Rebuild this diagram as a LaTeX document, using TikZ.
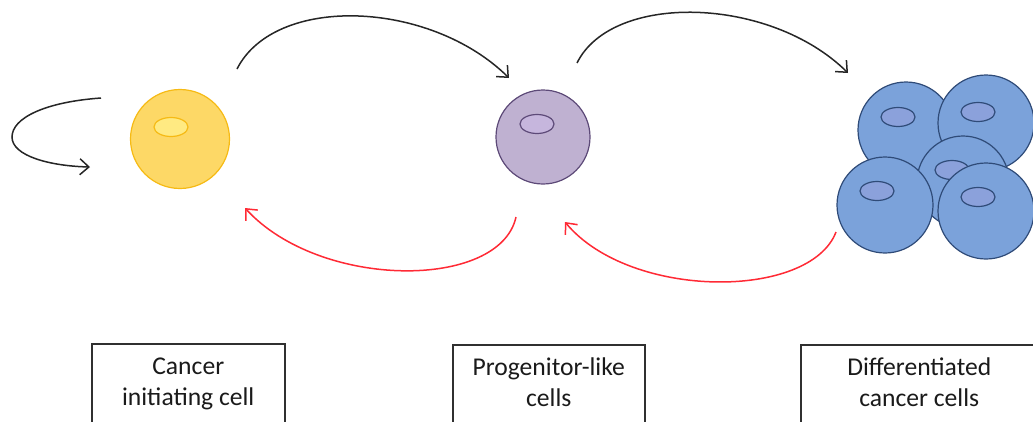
\documentclass[tikz,border=0pt]{standalone}
\usepackage{fontspec}
\setmainfont{Carlito}
\usetikzlibrary{arrows.meta,shapes.geometric}

\definecolor{icifill}{HTML}{FDD866}
\definecolor{icidraw}{HTML}{F6BA14}
\definecolor{icinuc}{HTML}{FFEA82}
\definecolor{profill}{HTML}{BFB1D1}
\definecolor{prodraw}{HTML}{5D4A78}
\definecolor{pronuc}{HTML}{C6B6DD}
\definecolor{difffill}{HTML}{7BA2DA}
\definecolor{diffdraw}{HTML}{2F4B78}
\definecolor{diffnuc}{HTML}{8BA1DB}
\definecolor{arrowgray}{HTML}{262626}
\definecolor{backred}{HTML}{FF2A35}
\definecolor{boxgray}{HTML}{303030}
\definecolor{labelink}{HTML}{1A1A1A}

\begin{document}
\begin{tikzpicture}[x=1pt,y=-1pt,
  cell/.style={circle, inner sep=0pt, line width=1.2pt},
  nucleus/.style={ellipse, inner sep=0pt, minimum width=34pt, minimum height=19pt, line width=1.2pt},
  icicell/.style={cell, fill=icifill, draw=icidraw},
  icinucleus/.style={nucleus, fill=icinuc, draw=icidraw},
  procell/.style={cell, fill=profill, draw=prodraw},
  pronucleus/.style={nucleus, fill=pronuc, draw=prodraw},
  diffcell/.style={cell, fill=difffill, draw=diffdraw, minimum size=96pt},
  diffnucleus/.style={nucleus, fill=diffnuc, draw=diffdraw},
  flow/.style={line width=1.5pt, draw=arrowgray, -{Straight Barb[length=9pt,width=16pt]}},
  backflow/.style={flow, draw=backred},
  labelbox/.style={draw=boxgray, line width=1.5pt, anchor=north west, minimum height=110pt, inner sep=0pt},
  labeltext/.style={font=\fontsize{25.6}{31}\selectfont, align=center, text=labelink, inner sep=0pt, anchor=north}
]
\useasboundingbox (0,0) rectangle (1033,421);
\clip (0,0) rectangle (1033,421);

% cancer initiating cell
\node[icicell, minimum size=99pt] (ici) at (180,139) {};
\node[icinucleus] (icin) at (171,127) {};

% progenitor-like cell
\node[procell, minimum size=94pt] (pro) at (543,137) {};
\node[pronucleus] (pron) at (537,124) {};

% cluster of differentiated cells
\node[diffcell] (d1) at (906,130) {};
\node[diffnucleus] (d1n) at (898,117) {};
\node[diffcell] (d2) at (986,123) {};
\node[diffnucleus] (d2n) at (978,112) {};
\node[diffcell, minimum size=92pt] (d3) at (963,182) {};
\node[diffnucleus] (d3n) at (952,170) {};
\node[diffcell] (d4) at (885,205) {};
\node[diffnucleus] (d4n) at (877,191) {};
\node[diffcell] (d5) at (986,211) {};
\node[diffnucleus] (d5n) at (978,197) {};

% arrow end points
\coordinate (selfS) at (101,98);
\coordinate (selfE) at (90,167);
\coordinate (fwdAS) at (237,69);
\coordinate (fwdAE) at (509,78);
\coordinate (fwdBS) at (577,63);
\coordinate (fwdBE) at (848,73);
\coordinate (bckAS) at (516,217);
\coordinate (bckAE) at (245,208);
\coordinate (bckBS) at (836,232);
\coordinate (bckBE) at (565,222);

% self renewal
\draw[flow] (selfS) .. controls (45,102) and (12,118) .. (12,137)
                    .. controls (12,156) and (50,166) .. (selfE);
% forward differentiation
\draw[flow] (fwdAS) .. controls (275,-6) and (430,0) .. (fwdAE);
\draw[flow] (fwdBS) .. controls (612,-8) and (770,-4) .. (fwdBE);
% de-differentiation
\draw[backflow] (bckAS) .. controls (500,290) and (320,290) .. (bckAE);
\draw[backflow] (bckBS) .. controls (810,300) and (630,300) .. (bckBE);

% labels
\node[labelbox, minimum width=193pt] (box1) at (91,343) {};
\node[labeltext] (t1) at ([yshift=-15pt]box1.north) {Cancer\\initiating cell};
\node[labelbox, minimum width=192pt] (box2) at (452,344) {};
\node[labeltext] (t2) at ([yshift=-14pt]box2.north) {Progenitor-like\\cells};
\node[labelbox, minimum width=237pt] (box3) at (800,344) {};
\node[labeltext] (t3) at ([yshift=-14pt]box3.north) {Differentiated\\cancer cells};
\end{tikzpicture}
\end{document}
